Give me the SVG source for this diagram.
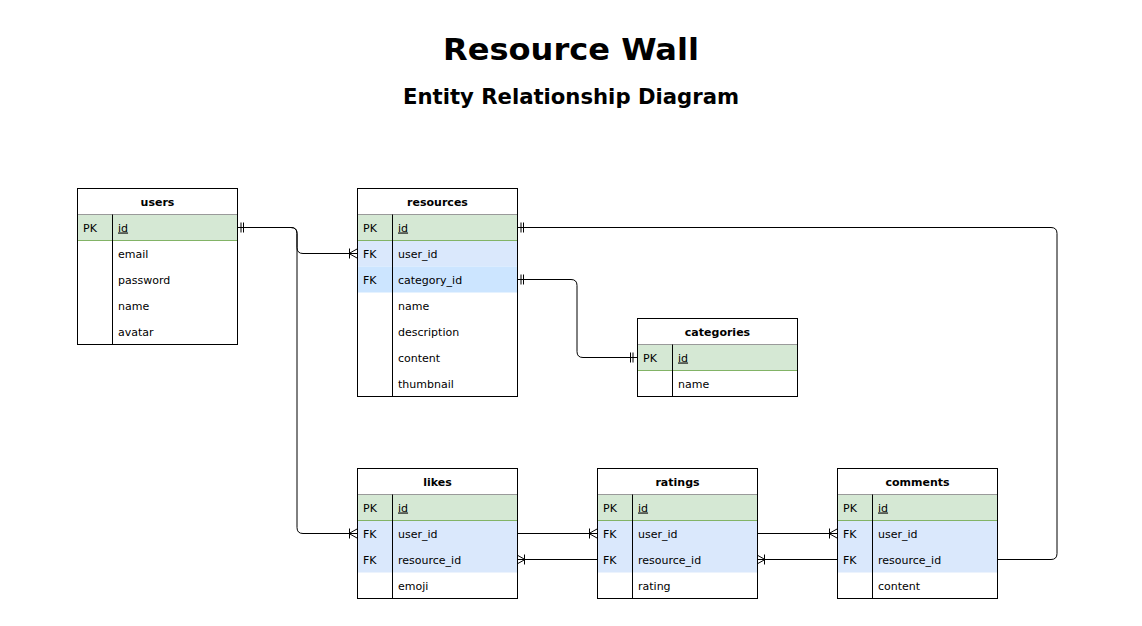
<svg xmlns="http://www.w3.org/2000/svg" width="1142" height="626" viewBox="0 0 1142 626">
<style>
text{font-family:"DejaVu Sans","Verdana",sans-serif;fill:#000}
.title{font-size:30px;font-weight:bold}
.sub{font-size:21px;font-weight:bold}
.hd{font-size:11px;font-weight:bold}
.tx{font-size:11px}
.u{text-decoration:underline}
.box{fill:none;stroke:#000;stroke-width:1}
.hdr{fill:#fff}
.pk{fill:#d5e8d4}
.fk{fill:#dae8fc}
.fk2{fill:#cce5ff}
.pkl{stroke:#82b366;stroke-width:1}
.sep{stroke:#000;stroke-width:1}
.hl{stroke:#9a9a9a;stroke-width:1}
.edge{fill:none;stroke:#000;stroke-width:1}
</style>
<defs>
<marker id="many" markerUnits="userSpaceOnUse" markerWidth="20" markerHeight="20" refX="10" refY="10" viewBox="0 0 20 20" orient="auto-start-reverse" overflow="visible">
<path d="M2,10 L10,5.5 M2,10 L10,14.5 M2.5,5 V15" fill="none" stroke="#000" stroke-width="1"/>
</marker>
<marker id="one" markerUnits="userSpaceOnUse" markerWidth="20" markerHeight="20" refX="10" refY="10" viewBox="0 0 20 20" orient="auto-start-reverse" overflow="visible">
<path d="M6,5 V15 M3.5,5 V15" fill="none" stroke="#000" stroke-width="1"/>
</marker>
</defs>
<rect width="1142" height="626" fill="#fff"/>
<text class="title" x="571" y="59.5" text-anchor="middle" textLength="256" lengthAdjust="spacingAndGlyphs">Resource Wall</text>
<text class="sub" x="571" y="104" text-anchor="middle" textLength="336" lengthAdjust="spacingAndGlyphs">Entity Relationship Diagram</text>

<g id="connectors">
<path class="edge" d="M237,227.5 H291 Q297,227.5 297,233.5 V247.5 Q297,253.5 303,253.5 H357" marker-start="url(#one)" marker-end="url(#many)"/>
<path class="edge" d="M237,227.5 H291 Q297,227.5 297,233.5 V527.5 Q297,533.5 303,533.5 H357" marker-end="url(#many)"/>
<path class="edge" d="M517,533.5 H597" marker-end="url(#many)"/>
<path class="edge" d="M757,533.5 H837" marker-end="url(#many)"/>
<path class="edge" d="M597,559.5 H517" marker-end="url(#many)"/>
<path class="edge" d="M837,559.5 H757" marker-end="url(#many)"/>
<path class="edge" d="M997,559.5 H1051 Q1057,559.5 1057,553.5 V233.5 Q1057,227.5 1051,227.5 H517" marker-end="url(#one)"/>
<path class="edge" d="M517,279.5 H571 Q577,279.5 577,285.5 V351.5 Q577,357.5 583,357.5 H637" marker-start="url(#one)" marker-end="url(#one)"/>
</g>

<g id="users" transform="translate(77,188)">
<rect class="hdr" x="0.5" y="0.5" width="160" height="156"/>
<rect class="pk" x="0.5" y="26.5" width="160" height="26"/>
<line class="hl" x1="0.5" y1="26.5" x2="160.5" y2="26.5"/>
<line class="pkl" x1="0.5" y1="52.5" x2="160.5" y2="52.5"/>
<line class="sep" x1="35.5" y1="26.5" x2="35.5" y2="156.5"/>
<rect class="box" x="0.5" y="0.5" width="160" height="156"/>
<text class="hd" x="80.5" y="17.5" text-anchor="middle">users</text>
<text class="tx" x="6" y="43.5">PK</text>
<text class="tx u" x="41" y="43.5">id</text>
<text class="tx" x="41" y="69.5">email</text>
<text class="tx" x="41" y="95.5">password</text>
<text class="tx" x="41" y="121.5">name</text>
<text class="tx" x="41" y="147.5">avatar</text>
</g>

<g id="resources" transform="translate(357,188)">
<rect class="hdr" x="0.5" y="0.5" width="160" height="208"/>
<rect class="pk" x="0.5" y="26.5" width="160" height="26"/>
<rect class="fk" x="0.5" y="52.5" width="160" height="26"/>
<rect class="fk2" x="0.5" y="78.5" width="160" height="26"/>
<line class="hl" x1="0.5" y1="26.5" x2="160.5" y2="26.5"/>
<line class="pkl" x1="0.5" y1="52.5" x2="160.5" y2="52.5"/>
<line class="sep" x1="35.5" y1="26.5" x2="35.5" y2="208.5"/>
<rect class="box" x="0.5" y="0.5" width="160" height="208"/>
<text class="hd" x="80.5" y="17.5" text-anchor="middle">resources</text>
<text class="tx" x="6" y="43.5">PK</text>
<text class="tx u" x="41" y="43.5">id</text>
<text class="tx" x="6" y="69.5">FK</text>
<text class="tx" x="41" y="69.5">user_id</text>
<text class="tx" x="6" y="95.5">FK</text>
<text class="tx" x="41" y="95.5">category_id</text>
<text class="tx" x="41" y="121.5">name</text>
<text class="tx" x="41" y="147.5">description</text>
<text class="tx" x="41" y="173.5">content</text>
<text class="tx" x="41" y="199.5">thumbnail</text>
</g>

<g id="categories" transform="translate(637,318)">
<rect class="hdr" x="0.5" y="0.5" width="160" height="78"/>
<rect class="pk" x="0.5" y="26.5" width="160" height="26"/>
<line class="hl" x1="0.5" y1="26.5" x2="160.5" y2="26.5"/>
<line class="pkl" x1="0.5" y1="52.5" x2="160.5" y2="52.5"/>
<line class="sep" x1="35.5" y1="26.5" x2="35.5" y2="78.5"/>
<rect class="box" x="0.5" y="0.5" width="160" height="78"/>
<text class="hd" x="80.5" y="17.5" text-anchor="middle">categories</text>
<text class="tx" x="6" y="43.5">PK</text>
<text class="tx u" x="41" y="43.5">id</text>
<text class="tx" x="41" y="69.5">name</text>
</g>

<g id="likes" transform="translate(357,468)">
<rect class="hdr" x="0.5" y="0.5" width="160" height="130"/>
<rect class="pk" x="0.5" y="26.5" width="160" height="26"/>
<rect class="fk" x="0.5" y="52.5" width="160" height="52"/>
<line class="hl" x1="0.5" y1="26.5" x2="160.5" y2="26.5"/>
<line class="pkl" x1="0.5" y1="52.5" x2="160.5" y2="52.5"/>
<line class="sep" x1="35.5" y1="26.5" x2="35.5" y2="130.5"/>
<rect class="box" x="0.5" y="0.5" width="160" height="130"/>
<text class="hd" x="80.5" y="17.5" text-anchor="middle">likes</text>
<text class="tx" x="6" y="43.5">PK</text>
<text class="tx u" x="41" y="43.5">id</text>
<text class="tx" x="6" y="69.5">FK</text>
<text class="tx" x="41" y="69.5">user_id</text>
<text class="tx" x="6" y="95.5">FK</text>
<text class="tx" x="41" y="95.5">resource_id</text>
<text class="tx" x="41" y="121.5">emoji</text>
</g>

<g id="ratings" transform="translate(597,468)">
<rect class="hdr" x="0.5" y="0.5" width="160" height="130"/>
<rect class="pk" x="0.5" y="26.5" width="160" height="26"/>
<rect class="fk" x="0.5" y="52.5" width="160" height="52"/>
<line class="hl" x1="0.5" y1="26.5" x2="160.5" y2="26.5"/>
<line class="pkl" x1="0.5" y1="52.5" x2="160.5" y2="52.5"/>
<line class="sep" x1="35.5" y1="26.5" x2="35.5" y2="130.5"/>
<rect class="box" x="0.5" y="0.5" width="160" height="130"/>
<text class="hd" x="80.5" y="17.5" text-anchor="middle">ratings</text>
<text class="tx" x="6" y="43.5">PK</text>
<text class="tx u" x="41" y="43.5">id</text>
<text class="tx" x="6" y="69.5">FK</text>
<text class="tx" x="41" y="69.5">user_id</text>
<text class="tx" x="6" y="95.5">FK</text>
<text class="tx" x="41" y="95.5">resource_id</text>
<text class="tx" x="41" y="121.5">rating</text>
</g>

<g id="comments" transform="translate(837,468)">
<rect class="hdr" x="0.5" y="0.5" width="160" height="130"/>
<rect class="pk" x="0.5" y="26.5" width="160" height="26"/>
<rect class="fk" x="0.5" y="52.5" width="160" height="52"/>
<line class="hl" x1="0.5" y1="26.5" x2="160.5" y2="26.5"/>
<line class="pkl" x1="0.5" y1="52.5" x2="160.5" y2="52.5"/>
<line class="sep" x1="35.5" y1="26.5" x2="35.5" y2="130.5"/>
<rect class="box" x="0.5" y="0.5" width="160" height="130"/>
<text class="hd" x="80.5" y="17.5" text-anchor="middle">comments</text>
<text class="tx" x="6" y="43.5">PK</text>
<text class="tx u" x="41" y="43.5">id</text>
<text class="tx" x="6" y="69.5">FK</text>
<text class="tx" x="41" y="69.5">user_id</text>
<text class="tx" x="6" y="95.5">FK</text>
<text class="tx" x="41" y="95.5">resource_id</text>
<text class="tx" x="41" y="121.5">content</text>
</g>
</svg>
